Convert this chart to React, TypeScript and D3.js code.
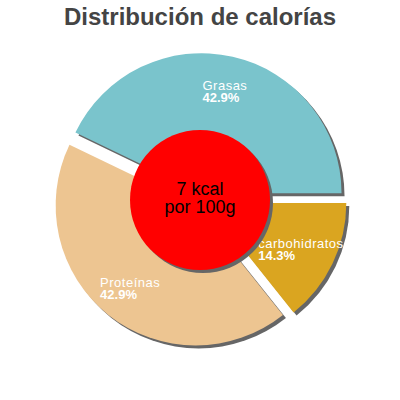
import React, { useEffect, useRef } from "react";
import * as d3 from "d3";

const categories = ["Grasas", "carbohidratos", "Proteínas"];
const values = [42.9, 14.3, 42.9];
const colors = ["#7AC4CC", "#DAA520", "#EDC591"];
const title = "Distribución de calorías";
const centerLines = ["7 kcal", "por 100g"];

export default function App() {
  const ref = useRef<SVGSVGElement | null>(null);

  useEffect(() => {
    const svg = d3.select(ref.current);
    svg.selectAll("*").remove();
    const W = 400, H = 400;
    const cx = 200, cy = 200, R = 140, explode = 7, innerR = 70;
    const font = "Liberation Sans, Arial, sans-serif";

    svg.append("rect").attr("width", W).attr("height", H).attr("fill", "#fff");

    const defs = svg.append("defs");
    const f = defs.append("filter").attr("id", "blur").attr("x", "-10%").attr("y", "-10%").attr("width", "120%").attr("height", "120%");
    f.append("feGaussianBlur").attr("stdDeviation", 0.7);

    svg.append("text")
      .attr("x", W / 2).attr("y", 25)
      .attr("text-anchor", "middle")
      .attr("font-family", font).attr("font-weight", "bold").attr("font-size", 24)
      .attr("fill", "#444")
      .text(title);

    const total = d3.sum(values);
    const start = Math.PI / 2 - (2 * Math.PI * values[0]) / total;
    const pie = d3.pie<number>().sort(null).startAngle(start).endAngle(start + 2 * Math.PI);
    const arcs = pie(values);
    const arc = d3.arc<d3.PieArcDatum<number>>().innerRadius(0).outerRadius(R);

    const offs = arcs.map((a) => {
      const m = (a.startAngle + a.endAngle) / 2;
      return [cx + explode * Math.sin(m), cy - explode * Math.cos(m)];
    });

    const g = svg.append("g");
    arcs.forEach((a, i) => {
      g.append("path")
        .attr("d", arc(a) as string)
        .attr("transform", `translate(${offs[i][0] + 3},${offs[i][1] + 3})`)
        .attr("fill", "#666")
        .attr("filter", "url(#blur)");
    });
    arcs.forEach((a, i) => {
      g.append("path")
        .attr("d", arc(a) as string)
        .attr("transform", `translate(${offs[i][0]},${offs[i][1]})`)
        .attr("fill", colors[i]);
    });

    arcs.forEach((a, i) => {
      const m = (a.startAngle + a.endAngle) / 2;
      const lx = offs[i][0] + 0.75 * R * Math.sin(m);
      const ly = offs[i][1] - 0.75 * R * Math.cos(m);
      const t1 = g.append("text")
        .attr("font-family", font).attr("font-size", 13).attr("fill", "#fff")
        .attr("letter-spacing", 0.5).text(categories[i]);
      const t2 = g.append("text")
        .attr("font-family", font).attr("font-size", 13).attr("fill", "#fff")
        .attr("font-weight", "bold").text(d3.format(".1f")(values[i]) + "%");
      const w = Math.max(
        (t1.node() as SVGTextElement).getComputedTextLength(),
        (t2.node() as SVGTextElement).getComputedTextLength()
      );
      const x0 = lx - w / 2;
      t1.attr("x", x0).attr("y", ly - 1);
      t2.attr("x", x0).attr("y", ly + 11);
    });

    g.append("circle").attr("cx", cx + 3).attr("cy", cy + 3).attr("r", innerR)
      .attr("fill", "#666").attr("filter", "url(#blur)");
    g.append("circle").attr("cx", cx).attr("cy", cy).attr("r", innerR).attr("fill", "#FF0000");
    centerLines.forEach((s, i) => {
      g.append("text")
        .attr("x", cx).attr("y", 195 + i * 18)
        .attr("text-anchor", "middle")
        .attr("font-family", font).attr("font-size", 18).attr("fill", "#000")
        .text(s);
    });
  }, []);

  return (
    <svg ref={ref} width={400} height={400} style={{ position: "absolute", left: 0, top: 0 }} />
  );
}
